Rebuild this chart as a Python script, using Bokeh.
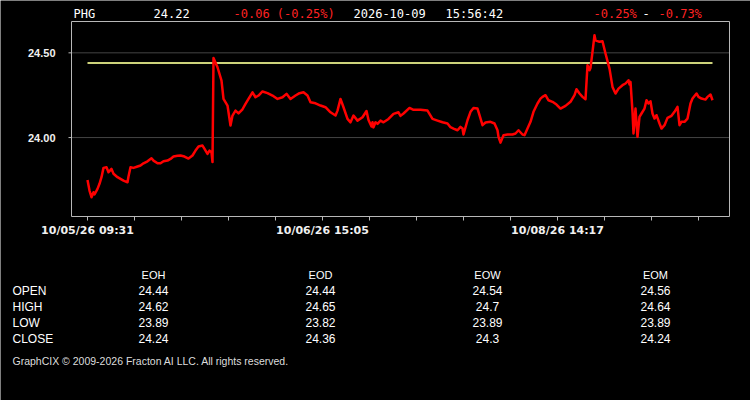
from bokeh.plotting import figure
from bokeh.models import Range1d
from bokeh.core.properties import value
from bokeh.embed import file_html
from bokeh.resources import INLINE

# ---------------- data ----------------
symbol = "PHG"
last_price = "24.22"
change_text = "-0.06 (-0.25%)"
date_text = "2026-10-09"
time_text = "15:56:42"
range_lo = "-0.25%"
range_hi = "-0.73%"

bars = [0, 2, 4, 6, 7, 10, 12, 14, 16, 19, 21, 24, 26, 30, 33, 36, 40, 41, 43, 46,
        50, 53, 56, 60, 64, 66, 70, 73, 76, 80, 83, 86, 90, 93, 97, 101, 105, 108, 111, 115,
        117, 120, 122, 124, 125, 126, 130, 134, 136, 140, 143, 145, 148, 151, 155, 158, 161, 165, 168, 171,
        175, 180, 185, 190, 195, 199, 203, 208, 212, 216, 220, 223, 228, 233, 238, 243, 248, 250, 253, 256,
        260, 263, 266, 270, 275, 279, 281, 284, 285, 286, 288, 290, 293, 296, 301, 306, 311, 313, 316, 322,
        326, 333, 340, 345, 350, 355, 360, 363, 366, 370, 373, 375, 376, 380, 383, 386, 390, 392, 395, 398,
        403, 407, 410, 411, 413, 416, 420, 425, 428, 431, 435, 437, 440, 443, 446, 450, 453, 455, 458, 461,
        465, 469, 473, 478, 483, 487, 489, 492, 495, 498, 500, 502, 503, 505, 507, 508, 512, 515, 518, 522,
        525, 528, 531, 535, 538, 541, 542, 543, 545, 546, 548, 550, 552, 554, 557, 559, 561, 563, 565, 567,
        569, 572, 574, 577, 580, 584, 587, 590, 592, 594, 597, 600, 603, 605, 609, 611, 614, 618, 620, 623,
        625]
prices = [23.750, 23.687, 23.648, 23.677, 23.664, 23.697, 23.727, 23.766, 23.821, 23.825, 23.795, 23.815, 23.786, 23.766, 23.756, 23.746, 23.736, 23.770, 23.825, 23.821,
          23.829, 23.835, 23.848, 23.860, 23.878, 23.864, 23.848, 23.848, 23.860, 23.864, 23.874, 23.888, 23.892, 23.894, 23.888, 23.876, 23.894, 23.923, 23.947, 23.953,
          23.933, 23.904, 23.923, 23.913, 23.855, 24.470, 24.415, 24.336, 24.228, 24.189, 24.071, 24.130, 24.159, 24.143, 24.167, 24.199, 24.228, 24.267, 24.238, 24.248,
          24.272, 24.262, 24.248, 24.228, 24.238, 24.258, 24.228, 24.248, 24.262, 24.267, 24.248, 24.208, 24.202, 24.189, 24.179, 24.149, 24.130, 24.159, 24.228, 24.179,
          24.110, 24.090, 24.130, 24.100, 24.120, 24.157, 24.104, 24.065, 24.090, 24.060, 24.090, 24.081, 24.100, 24.090, 24.110, 24.140, 24.149, 24.128, 24.142, 24.175,
          24.164, 24.164, 24.159, 24.110, 24.100, 24.090, 24.083, 24.061, 24.053, 24.043, 24.063, 24.053, 24.018, 24.102, 24.152, 24.175, 24.171, 24.132, 24.073, 24.089,
          24.093, 24.083, 24.043, 24.004, 23.970, 24.014, 24.018, 24.018, 24.024, 24.043, 24.018, 24.014, 24.053, 24.093, 24.152, 24.201, 24.230, 24.240, 24.250, 24.220,
          24.211, 24.195, 24.171, 24.187, 24.211, 24.250, 24.285, 24.260, 24.240, 24.226, 24.427, 24.397, 24.411, 24.506, 24.604, 24.574, 24.565, 24.568, 24.496, 24.407,
          24.299, 24.260, 24.289, 24.309, 24.319, 24.338, 24.313, 24.329, 24.152, 24.024, 24.171, 24.004, 24.122, 24.142, 24.171, 24.220, 24.201, 24.214, 24.142, 24.112,
          24.132, 24.083, 24.053, 24.073, 24.116, 24.128, 24.152, 24.181, 24.073, 24.093, 24.093, 24.112, 24.201, 24.230, 24.260, 24.240, 24.230, 24.224, 24.240, 24.254,
          24.220]

open_price = 24.44

tick_step = 47
tick_count = 14
tick_labels = ["10/05/26 09:31", "10/06/26 15:05", "10/08/26 14:17"]
y_ticks = [24.0, 24.5]
y_tick_labels = ["24.00", "24.50"]

table_cols = ["EOH", "EOD", "EOW", "EOM"]
table_rows = ["OPEN", "HIGH", "LOW", "CLOSE"]
eoh_vals = ["24.44", "24.62", "23.89", "24.24"]
eod_vals = ["24.44", "24.65", "23.82", "24.36"]
eow_vals = ["24.54", "24.7", "23.89", "24.3"]
eom_vals = ["24.56", "24.64", "23.89", "24.24"]
copyright_text = "GraphCIX \u00a9 2009-2026 Fracton AI LLC. All rights reserved."

# ---------------- layout constants (styling) ----------------
BG = "black"
W, H = 750, 400
# chart box in page pixels
BOX_L, BOX_R, BOX_T, BOX_B = 71, 729, 21, 216
# chart ranges
BAR_START, BAR_END = -16, 642
PRICE_BOTTOM, PRICE_TOP = 23.534, 24.685

# map bar / price ranges onto the full canvas frame so the chart box lands on BOX_*
bar_per_px = (BAR_END - BAR_START) / (BOX_R - BOX_L)
price_per_px = (PRICE_TOP - PRICE_BOTTOM) / (BOX_B - BOX_T)
bar_range = Range1d(BAR_START - BOX_L * bar_per_px, BAR_END + (W - BOX_R) * bar_per_px)
price_range = Range1d(PRICE_BOTTOM - (H - BOX_B) * price_per_px, PRICE_TOP + BOX_T * price_per_px)

p = figure(width=W, height=H, x_range=Range1d(0, W), y_range=Range1d(H, 0),
           output_backend="svg", toolbar_location=None,
           x_axis_location=None, y_axis_location=None, min_border=0,
           background_fill_color=BG, border_fill_color=BG, outline_line_color=None)
p.grid.visible = False
p.extra_x_ranges = {"bar": bar_range}
p.extra_y_ranges = {"price": price_range}

AX = "#b8b8b8"

# gridlines at the y ticks
p.segment(x0=[BAR_START] * len(y_ticks), x1=[BAR_END] * len(y_ticks), y0=y_ticks, y1=y_ticks,
          x_range_name="bar", y_range_name="price", line_color="#444444", line_width=1)

# data
p.line([bars[0], bars[-1]], [open_price, open_price], x_range_name="bar", y_range_name="price",
       line_color="#cdd27a", line_width=2)
p.line(bars, prices, x_range_name="bar", y_range_name="price",
       line_color="#ff0000", line_width=2.5, line_join="round")

# chart box outline
p.quad(left=[BAR_START], right=[BAR_END], bottom=[PRICE_BOTTOM], top=[PRICE_TOP],
       x_range_name="bar", y_range_name="price", fill_color=None,
       line_color=AX, line_width=1)

# y axis: ticks and labels on the price scale
p.segment(x0=[BAR_START - 3 * bar_per_px] * len(y_ticks), x1=[BAR_START] * len(y_ticks),
          y0=y_ticks, y1=y_ticks, x_range_name="bar", y_range_name="price",
          line_color=AX, line_width=1)
p.text(x=[BAR_START - 16 * bar_per_px] * len(y_ticks), y=y_ticks, text=y_tick_labels,
       x_range_name="bar", y_range_name="price", text_color="#f0f0f0",
       text_font=value("Liberation Sans"), text_font_size="11px", text_font_style="bold",
       text_align="right", text_baseline="middle")

# x axis: ticks on the bar scale, labels every fifth tick
ticks = [i * tick_step for i in range(tick_count)]
label_ticks = [ticks[k * 5] for k in range(len(tick_labels))]
p.segment(x0=ticks, x1=ticks, y0=[BOX_B] * len(ticks), y1=[BOX_B + 4] * len(ticks),
          x_range_name="bar", line_color=AX, line_width=1)
p.text(x=label_ticks, y=[BOX_B + 14] * len(label_ticks), text=tick_labels,
       x_range_name="bar", text_color="#f0f0f0",
       text_font=value("DejaVu Sans"), text_font_size="11px", text_font_style="bold",
       text_align="center", text_baseline="middle")

# header (page pixels)
hdr_texts = [symbol, last_price, change_text, date_text, time_text, range_lo, "-", range_hi]
hdr_x = [73, 153, 233, 353, 445, 593, 642, 658]
hdr_colors = ["white", "white", "#ff2222", "white", "white", "#ff2222", "white", "#ff2222"]
p.text(x=hdr_x, y=[13] * len(hdr_texts), text=hdr_texts, text_color=hdr_colors,
       text_font=value("DejaVu Sans Mono"), text_font_size="12px",
       text_align="left", text_baseline="middle")

# table (page pixels)
col_x = [153, 320, 487, 655]
row_y = [290, 306, 322, 338]
p.text(x=col_x, y=[274] * 4, text=table_cols, text_color="white",
       text_font=value("Liberation Sans"), text_font_size="11px",
       text_align="center", text_baseline="middle")
p.text(x=[12] * 4, y=row_y, text=table_rows, text_color="white",
       text_font=value("Liberation Sans"), text_font_size="12px",
       text_align="left", text_baseline="middle")
for cx, vals in zip(col_x, [eoh_vals, eod_vals, eow_vals, eom_vals]):
    p.text(x=[cx] * 4, y=row_y, text=vals, text_color="white",
           text_font=value("Liberation Sans"), text_font_size="12px",
           text_align="center", text_baseline="middle")
p.text(x=[12], y=[360], text=[copyright_text], text_color="#dddddd",
       text_font=value("Liberation Sans"), text_font_size="10.5px",
       text_align="left", text_baseline="middle")

open("out.html", "w").write(file_html(p, INLINE))
